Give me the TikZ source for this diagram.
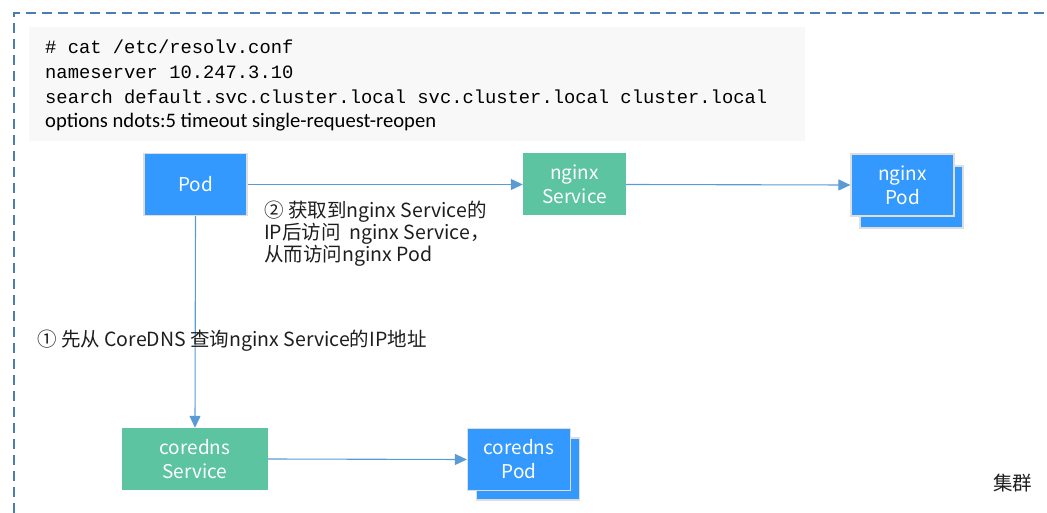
\documentclass[tikz,border=0pt]{standalone}
\usepackage{fontspec}
\setmainfont{Noto Sans CJK SC}
\setmonofont{Liberation Mono}
\newfontfamily\codefont{Carlito}
\usetikzlibrary{arrows.meta}
\definecolor{podblue}{RGB}{51,153,255}
\definecolor{svcgreen}{RGB}{92,196,160}
\definecolor{flowblue}{RGB}{91,155,213}
\definecolor{framedash}{RGB}{74,125,176}
\definecolor{codegray}{RGB}{248,248,248}
\definecolor{txtdark}{RGB}{30,30,30}

\tikzset{
  podbox/.style={fill=podblue, draw=black!13, line width=1.2pt, text=white,
    minimum width=103pt, minimum height=62pt, inner sep=0pt, align=center,
    font=\fontsize{19}{24}\selectfont},
  svcbox/.style={fill=svcgreen, text=white, inner sep=0pt, align=center,
    minimum height=62pt, font=\fontsize{19}{24}\selectfont},
  flow/.style={flowblue, line width=1.1pt, -{Triangle[length=12pt,width=11pt]}},
  note/.style={text=txtdark, align=left, inner sep=0pt, anchor=west,
    font=\fontsize{19.5}{22}\selectfont}
}

\begin{document}
\begin{tikzpicture}[x=1pt,y=-1pt]
  \useasboundingbox (0,0) rectangle (1047,513);
  % cluster frame
  \draw[framedash, line width=1.6pt, dash pattern=on 10pt off 6pt]
    (14,513) -- (14,13) -- (1047,13);
  % resolv.conf
  \fill[codegray] (29,27) rectangle (805,141);
  \node[anchor=base west, inner sep=0pt, font=\ttfamily\fontsize{18.8}{25}\selectfont] (cat) at (45,54) {\# cat /etc/resolv.conf};
  \node[anchor=base west, inner sep=0pt, font=\ttfamily\fontsize{18.8}{25}\selectfont] (ns) at (45,79) {nameserver 10.247.3.10};
  \node[anchor=base west, inner sep=0pt, font=\ttfamily\fontsize{18.8}{25}\selectfont] (search) at (45,104) {search default.svc.cluster.local svc.cluster.local cluster.local};
  \node[anchor=base west, inner sep=0pt, font=\codefont\fontsize{20.6}{25}\selectfont] (opts) at (45,128) {options ndots:5 timeout single-request-reopen};

  % nodes
  \node[podbox] (pod) at (195.5,184.5) {Pod};
  \node[svcbox, minimum width=103pt] (ngxsvc) at (574.5,184.5) {nginx\\Service};
  \node[podbox] (ngxpodb) at (911.5,197) {};
  \node[podbox] (ngxpod) at (902.5,185) {nginx\\Pod};
  \node[svcbox, minimum width=146pt] (dnssvc) at (195,459) {coredns\\Service};
  \node[podbox] (dnspodb) at (528,469) {};
  \node[podbox] (dnspod) at (519,459.5) {coredns\\Pod};

  % connectors
  \draw[flow] (pod.east) -- (ngxsvc.west);
  \draw[flow] (ngxsvc.east) -- (ngxpod.west);
  \draw[flow] (pod.south) -- (dnssvc.north);
  \draw[flow] (dnssvc.east) -- (dnspod.west);

  % labels
  \node[note] (step2) at (264,234) {② 获取到nginx Service的\\IP后访问\ \ nginx Service，\\从而访问nginx Pod};
  \node[note] (step1) at (37,341) {① 先从 CoreDNS 查询nginx Service的IP地址};
  \node[note] (cluster) at (993,483) {集群};
\end{tikzpicture}
\end{document}
